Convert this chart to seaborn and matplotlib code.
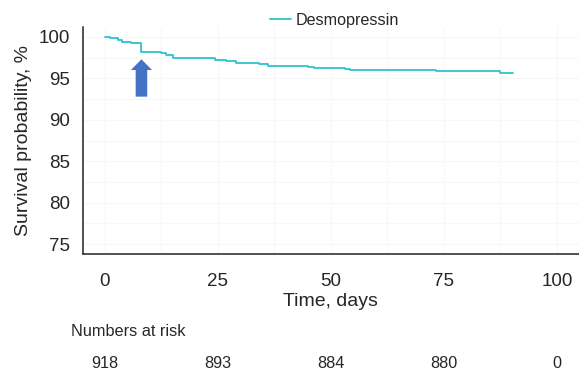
import matplotlib
matplotlib.use("Agg")
import matplotlib.pyplot as plt
import matplotlib.transforms as mtransforms
import seaborn as sns
import pandas as pd

# Kaplan-Meier steps
time_days = [0, 1.1, 2.9, 3.7, 5.9, 8.0, 12.5, 13.6, 15.1, 24.3, 26.9, 29.0,
             34.1, 36.1, 45.0, 46.3, 53.1, 54.2, 63.2, 73.3, 87.4, 90.3]
survival = [100, 99.84, 99.6, 99.44, 99.3, 98.15, 98.03, 97.83, 97.42, 97.25,
            97.08, 96.88, 96.72, 96.52, 96.38, 96.24, 96.14, 96.05, 95.97,
            95.86, 95.63, 95.63]
group = "Desmopressin"

x_ticks = [0, 25, 50, 75, 100]
y_ticks = [75, 80, 85, 90, 95, 100]
risk_times = [0, 25, 50, 75, 100]
risk_counts = [918, 893, 884, 880, 0]

arrow_day = 8.1
arrow_top = 97.3
arrow_bottom = 92.8

LINE_COLOR = "#2ec4cc"
ARROW_COLOR = "#4472c4"
TEXT_COLOR = "#262626"

sns.set_theme(style="white")
plt.rcParams["font.family"] = ["Liberation Sans", "DejaVu Sans"]

df = pd.DataFrame({"time": time_days, "surv": survival, "group": group})

fig = plt.figure(figsize=(5.79, 3.73), dpi=100)
ax = fig.add_axes([0.1428, 0.3198, 0.8572, 0.6078])

sns.lineplot(data=df, x="time", y="surv", hue="group", palette=[LINE_COLOR],
             drawstyle="steps-post", estimator=None, linewidth=1.3, ax=ax)

ax.set_xlim(-4.9, 104.9)
ax.set_ylim(73.85, 101.2)
ax.set_xticks(x_ticks)
ax.set_yticks(y_ticks)
ax.set_xticks([12.5, 37.5, 62.5, 87.5], minor=True)
ax.set_yticks([77.5, 82.5, 87.5, 92.5, 97.5], minor=True)
ax.grid(True, which="both", color="#f7f7f7", linewidth=0.8)
ax.set_axisbelow(True)

for side in ["top", "right"]:
    ax.spines[side].set_visible(False)
ax.spines["left"].set_color("#222222")
ax.spines["left"].set_linewidth(1.1)
# x ticks sit a bit below the baseline, baseline drawn separately
ax.spines["bottom"].set_position(("outward", 3))
ax.spines["bottom"].set_visible(False)
ax.plot([0, 1], [0, 0], transform=ax.transAxes, color="#222222",
        linewidth=1.1, clip_on=False, zorder=5)

ax.tick_params(axis="both", which="major", direction="out", length=6,
               width=1.0, color="#222222", labelsize=13.5, labelcolor=TEXT_COLOR)
ax.tick_params(axis="x", pad=5)
ax.tick_params(axis="y", pad=3)
ax.tick_params(which="minor", length=0)

ax.set_xlabel("Time, days", fontsize=14, color=TEXT_COLOR, labelpad=2)
ax.set_ylabel("Survival probability, %", fontsize=14, color=TEXT_COLOR,
              labelpad=5)

ax.annotate("", xy=(arrow_day, arrow_top), xytext=(arrow_day, arrow_bottom),
            arrowprops=dict(width=8.3, headwidth=15.2, headlength=7.7,
                            shrink=0, facecolor=ARROW_COLOR,
                            edgecolor=ARROW_COLOR, linewidth=0))

ax.legend(loc="center left", bbox_to_anchor=(270 / 579, 1 - 20 / 373),
          bbox_transform=fig.transFigure, frameon=False, fontsize=11.6,
          handlelength=1.3, handletextpad=0.32, borderpad=0,
          borderaxespad=0, labelcolor=TEXT_COLOR)

fig.text(71 / 579, 1 - 331 / 373, "Numbers at risk", fontsize=11.7,
         color=TEXT_COLOR, ha="left", va="center")
trans = mtransforms.blended_transform_factory(ax.transData, fig.transFigure)
for t, n in zip(risk_times, risk_counts):
    ax.text(t, 1 - 363 / 373, str(n), transform=trans, fontsize=11.7,
            color=TEXT_COLOR, ha="center", va="center")

fig.savefig("out.png", dpi=100)
